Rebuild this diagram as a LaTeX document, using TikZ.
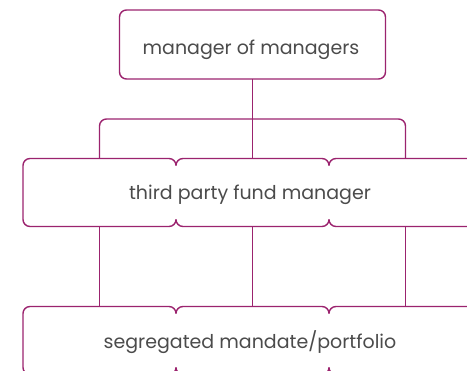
\documentclass[tikz,border=0pt]{standalone}
\usepackage{fontspec}
\setmainfont{Poppins}
\usetikzlibrary{positioning}
\definecolor{plum}{RGB}{155,35,110}
\definecolor{ink}{RGB}{75,75,75}
\tikzset{
  frame/.style={draw=plum, line width=1.4pt, rounded corners=7pt},
  cell/.style={minimum width=153pt, minimum height=68pt, inner sep=0pt, outer sep=0pt},
  link/.style={draw=plum, line width=1.4pt},
  lbl/.style={text=ink, anchor=base, inner sep=0pt, font=\fontsize{19}{21}\selectfont}
}
\begin{document}
\begin{tikzpicture}[x=1pt,y=-1pt]
\useasboundingbox (0,0) rectangle (467,371);
\clip (0,0) rectangle (467,371);
% top box
\node[frame, cell, minimum width=266pt, minimum height=69pt] (mom) at (252.5,44.5) {};
\node[lbl] (momtext) at (251,55) {manager of managers};

% middle and bottom rows
\node[cell] (m1) at (99.5,192.5) {};
\node[cell, right=0pt of m1] (m2) {};
\node[cell, right=0pt of m2] (m3) {};
\node[cell] (b1) at (99.5,340.5) {};
\node[cell, right=0pt of b1] (b2) {};
\node[cell, right=0pt of b2] (b3) {};
\node[lbl] (mtext) at (250,200) {third party fund manager};
\node[lbl] (btext) at (250,349) {segregated mandate/portfolio};

\foreach \r in {m,b}{
  \draw[frame] ([yshift=-7pt]\r1.north east) -- (\r1.north east) -- (\r1.north west)
    -- (\r1.south west) -- (\r1.south east) -- ([yshift=7pt]\r1.south east);
  \draw[frame] ([yshift=-7pt]\r2.north west) -- (\r2.north west) -- (\r2.north east) -- ([yshift=-7pt]\r2.north east);
  \draw[frame] ([yshift=7pt]\r2.south west) -- (\r2.south west) -- (\r2.south east) -- ([yshift=7pt]\r2.south east);
  \draw[frame] ([yshift=-7pt]\r3.north west) -- (\r3.north west) -- (\r3.north east)
    -- (\r3.south east) -- (\r3.south west) -- ([yshift=7pt]\r3.south west);
}

% connectors
\coordinate (bar) at (252.5,119);
\draw[link] (mom.south) -- (m2.north);
\draw[link, rounded corners=7pt] (m1.north) |- (bar) -| (m3.north);
\foreach \i in {1,2,3}
  \draw[link] (m\i.south) -- (b\i.north);
\end{tikzpicture}
\end{document}
